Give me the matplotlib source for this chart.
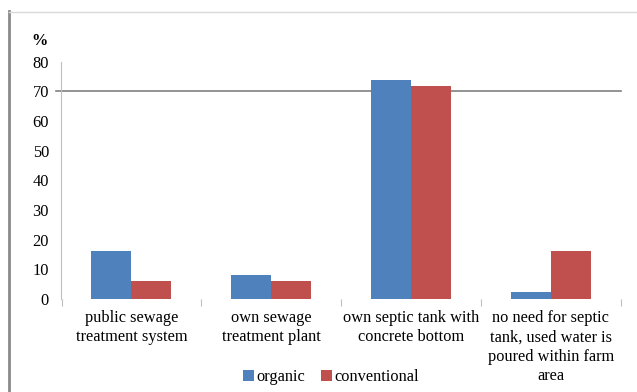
import matplotlib
matplotlib.use("Agg")
import matplotlib.pyplot as plt
from matplotlib.lines import Line2D
import numpy as np

categories = ["public sewage\ntreatment system",
              "own sewage\ntreatment plant",
              "own septic tank with\nconcrete bottom",
              "no need for septic\ntank, used water is\npoured within farm\narea"]
organic = [16.2, 8.1, 73.8, 2.4]
conventional = [6.1, 6.1, 71.8, 16.2]
yticks = [0, 10, 20, 30, 40, 50, 60, 70, 80]

plt.rcParams['font.family'] = ['Liberation Serif', 'DejaVu Serif']
fs = 11.8

fig = plt.figure(figsize=(6.37, 3.92), dpi=100)
ax = fig.add_axes([61.5/637, 1-299/392, (620.7-61.5)/637, (299-61.6)/392])

x = np.arange(len(categories))
w = 0.286
ax.bar(x - w/2, organic, w, color='#4F81BD', label='organic', zorder=3)
ax.bar(x + w/2, conventional, w, color='#C0504D', label='conventional', zorder=3)

ax.set_xlim(-0.5, 3.5)
ax.set_ylim(0, 80)
ax.set_yticks(yticks)
ax.set_yticklabels([str(v) for v in yticks], fontsize=fs)
ax.tick_params(axis='y', length=0, pad=9)

ax.set_xticks([-0.5, 0.5, 1.5, 2.5, 3.5])
ax.set_xticklabels([])
ax.set_xticks(x, minor=True)
ax.set_xticklabels(categories, minor=True, fontsize=fs, linespacing=1.28)
ax.tick_params(axis='x', which='major', length=5, color='#bfbfbf', direction='out')
ax.tick_params(axis='x', which='minor', length=0, pad=8)

for s in ['top', 'right', 'bottom']:
    ax.spines[s].set_visible(False)
ax.spines['left'].set_color('#bfbfbf')

# single horizontal line at 70
ax.plot([-0.536, 3.5], [70, 70], color='#808080', lw=1.2, zorder=1, clip_on=False)

ax.text(-0.656, 87.0, '%', fontsize=fs, fontweight='bold', ha='center', va='center')

ax.legend(loc='center', bbox_to_anchor=(331/637, 1-377/392), bbox_transform=fig.transFigure,
          ncol=2, frameon=False, fontsize=fs, handlelength=0.65, handleheight=0.65,
          handletextpad=0.15, columnspacing=1.0)

# outer frame
fig.add_artist(Line2D([8.5/637, 8.5/637], [0, 1-11/392], transform=fig.transFigure,
                      color='#8a8a8a', lw=2))
fig.add_artist(Line2D([8.5/637, 1], [1-11.5/392, 1-11.5/392], transform=fig.transFigure,
                      color='#d9d9d9', lw=1))

fig.savefig('out.png', dpi=100)
